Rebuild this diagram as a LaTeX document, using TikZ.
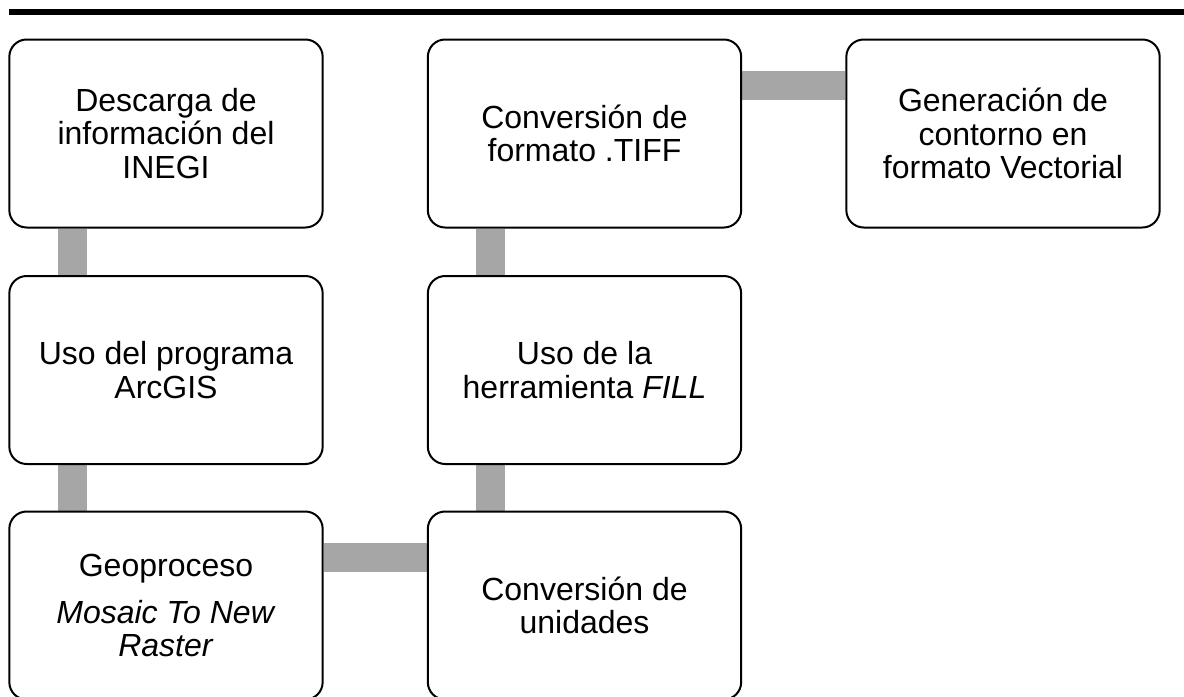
\documentclass[tikz,border=0pt]{standalone}
\usepackage{fontspec}
\setmainfont{Liberation Sans}
\usetikzlibrary{calc,backgrounds}
\definecolor{linkgray}{RGB}{166,166,166}
\tikzset{
  stepbox/.style={draw=black, line width=1.5pt, rounded corners=13pt, fill=white,
    minimum width=235pt, minimum height=141pt, inner sep=0pt, align=center,
    font=\fontsize{24}{25}\selectfont},
  link/.style={draw=linkgray, line width=21.75pt}
}
\begin{document}
\begin{tikzpicture}[x=0.75pt,y=0.75pt,yscale=-1,xscale=1]
\useasboundingbox (0,0) rectangle (1184,696);

%Straight Lines: top rule
\draw [line width=4.5pt] (9,12) -- (1184,12);

%Shapes: first column
\node [stepbox] (descarga) at (166,133.5) {Descarga de\\información del\\INEGI};
\node [stepbox] (arcgis) at (166,370) {Uso del programa\\ArcGIS};
\node [stepbox] (mosaico) at (166,605.5) {Geoproceso\\[10pt]\textit{Mosaic To New}\\\textit{Raster}};
%Shapes: second column
\node [stepbox] (unidades) at (584.5,605.5) {Conversión de\\unidades};
\node [stepbox] (fill) at (584.5,370) {Uso de la\\herramienta \textit{FILL}};
\node [stepbox] (tiff) at (584.5,133.5) {Conversión de\\formato .TIFF};
%Shapes: third column
\node [stepbox] (vectorial) at (1003,133.5) {Generación de\\contorno en\\formato Vectorial};

%Connectors
\begin{scope}[on background layer]
\draw [link] ($(descarga.south west)+(64,0)$) -- ($(arcgis.north west)+(64,0)$);
\draw [link] ($(arcgis.south west)+(64,0)$) -- ($(mosaico.north west)+(64,0)$);
\draw [link] ($(mosaico.north east)+(0,47)$) -- ($(unidades.north west)+(0,47)$);
\draw [link] ($(unidades.north west)+(64,0)$) -- ($(fill.south west)+(64,0)$);
\draw [link] ($(fill.north west)+(64,0)$) -- ($(tiff.south west)+(64,0)$);
\draw [link] ($(tiff.north east)+(0,47)$) -- ($(vectorial.north west)+(0,47)$);
\end{scope}
\end{tikzpicture}
\end{document}
